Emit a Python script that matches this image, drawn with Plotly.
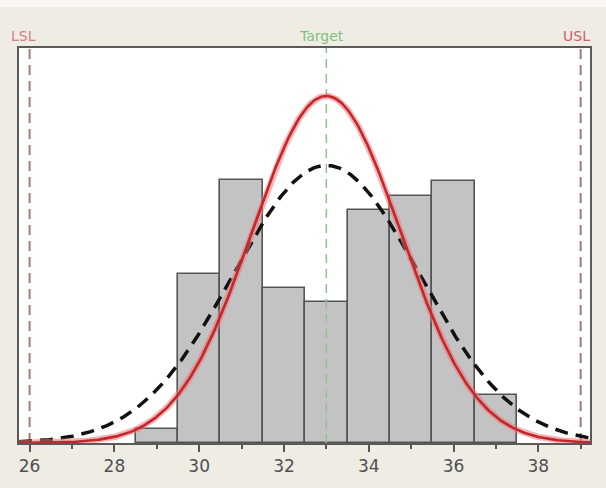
import numpy as np
import plotly.graph_objects as go

# ---- data ----
bin_centers = [29, 30, 31, 32, 33, 34, 35, 36, 37]
bin_percent = [0.91, 11.07, 17.16, 10.10, 9.20, 15.22, 16.13, 17.10, 3.11]
lsl = 26
usl = 39
target = 33
process_mean = 33.0
sigma_within = 1.76
sigma_overall = 2.20
tick_vals = [26, 28, 30, 32, 34, 36, 38]

x_min, x_max = 25.75, 39.22
y_max = 25.8

xs = np.linspace(x_min, x_max, 400)
def normal_pct(x, mu, s):
    return 100.0 / (s * np.sqrt(2 * np.pi)) * np.exp(-0.5 * ((x - mu) / s) ** 2)

fig = go.Figure()

fig.add_trace(go.Bar(
    x=bin_centers, y=bin_percent, width=1.0,
    marker=dict(color="#C3C3C3", line=dict(color="#555555", width=1.6)),
    showlegend=False, hoverinfo="skip"))

# reference lines
for xv, col, dash, w in [(lsl, "#A87878", "10px,6px", 2), (usl, "#A87878", "10px,6px", 2),
                         (target, "#8CC48C", "9px,6px", 1.5)]:
    fig.add_trace(go.Scatter(x=[xv, xv], y=[0, y_max], mode="lines",
                             line=dict(color=col, width=w, dash=dash),
                             showlegend=False, hoverinfo="skip"))

# overall (dashed black)
fig.add_trace(go.Scatter(x=xs, y=normal_pct(xs, process_mean, sigma_overall), mode="lines",
                         line=dict(color="#111111", width=3.5, dash="13px,8px"),
                         showlegend=False, hoverinfo="skip"))
# within (red, with soft glow)
yw = normal_pct(xs, process_mean, sigma_within)
fig.add_trace(go.Scatter(x=xs, y=yw, mode="lines",
                         line=dict(color="rgba(235,120,120,0.55)", width=6.5),
                         showlegend=False, hoverinfo="skip"))
fig.add_trace(go.Scatter(x=xs, y=yw, mode="lines",
                         line=dict(color="#C4262C", width=2.6),
                         showlegend=False, hoverinfo="skip"))

# labels above plot
for xv, txt, col in [(lsl - 0.15, "LSL", "#D07F86"), (target - 0.12, "Target", "#7CC27C"), (usl - 0.1, "USL", "#C8606E")]:
    fig.add_annotation(x=xv, y=1.0, xref="x", yref="paper", text=txt, showarrow=False,
                       yanchor="bottom", yshift=2, font=dict(family="DejaVu Sans", size=14, color=col))

# light strip at very top
fig.add_shape(type="rect", xref="paper", yref="paper", x0=-0.05, x1=1.05, y0=1.104, y1=1.13,
              fillcolor="#F8F7F3", line=dict(width=0), layer="below")

fig.update_layout(
    width=606, height=488,
    margin=dict(l=19, r=16, t=48, b=42),
    paper_bgcolor="#EFECE4", plot_bgcolor="#FFFFFF",
    bargap=0, showlegend=False,
    xaxis=dict(range=[x_min, x_max], tickmode="array", tickvals=tick_vals,
               ticks="outside", ticklen=7, tickwidth=2, tickcolor="#555555",
               minor=dict(dtick=1, tick0=25, ticks="outside", ticklen=4, tickwidth=1.5, tickcolor="#555555"),
               showgrid=False, zeroline=False, showline=True, mirror=True,
               linecolor="#5A5A5A", linewidth=2,
               tickfont=dict(family="DejaVu Sans", size=17, color="#505050")),
    yaxis=dict(range=[0, y_max], showticklabels=False, ticks="", showgrid=False,
               zeroline=False, showline=True, mirror=True, linecolor="#5A5A5A", linewidth=2),
)

fig.write_html("out.html", config={"displayModeBar": False},
               post_script="document.body.style.margin='0';document.body.style.padding='0';")
